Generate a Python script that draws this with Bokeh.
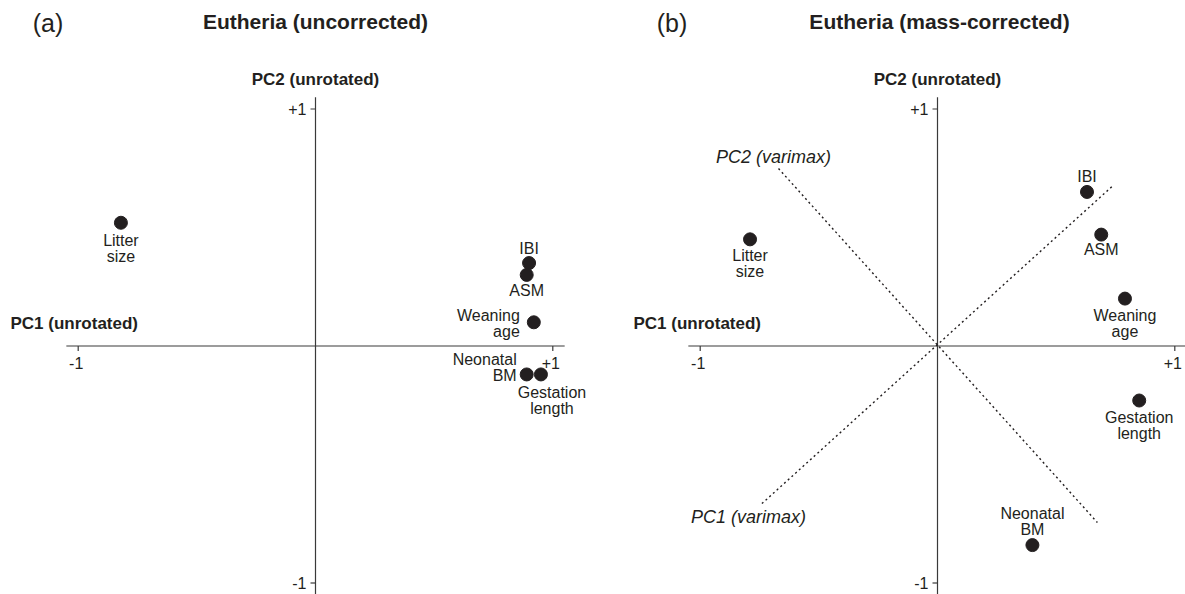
import math
from bokeh.plotting import figure
from bokeh.layouts import row
from bokeh.models import ColumnDataSource, Range1d
from bokeh.core.properties import value
from bokeh.embed import file_html
from bokeh.resources import INLINE

# ---------------- data ----------------
traits = ["Litter\nsize", "IBI", "ASM", "Weaning\nage", "Neonatal\nBM", "Gestation\nlength"]
# panel (a): Eutheria (uncorrected) loadings
a_pc1 = [-0.82, 0.90, 0.89, 0.92, 0.89, 0.95]
a_pc2 = [0.52, 0.35, 0.30, 0.10, -0.12, -0.12]
# panel (b): Eutheria (mass-corrected) loadings
b_pc1 = [-0.79, 0.63, 0.69, 0.79, 0.40, 0.85]
b_pc2 = [0.45, 0.65, 0.47, 0.20, -0.84, -0.23]
# varimax-rotated axes drawn in panel (b) (end points)
varimax_pc1_x = [-0.74, 0.74]
varimax_pc1_y = [-0.665, 0.677]
varimax_pc2_x = [-0.67, 0.674]
varimax_pc2_y = [0.749, -0.745]
tick_values = [-1, 1]
tick_labels = ["-1", "+1"]

# ---------------- styles / layout ----------------
FONT = "Liberation Sans"
INK = "#231f20"
AXIS = "#3a3a3a"
PAGE = 0        # the page template has no body margin
H = 594
W_TOTAL = 1185
CY = 345.5      # page y of the origin
SX = 237.3      # px per unit, x
SY = 237.0      # px per unit, y
AX_EXT = 1.05

# label placement (screen px offsets of the label block centre)
a_align = ["center", "center", "center", "right", "right", "center"]
a_dx = [0, 0, 0, -14, -10, 11]
a_dy = [26, -15, 16, 1, -7, 26]
b_align = ["center"] * 6
b_dx = [0, 0, 0, 0, 0, 0]
b_dy = [24, -15, 15, 25, -24, 25]


def make_panel(left, width, cx, pc1, pc2, align, dx, dy, letter, letter_cx,
               title, title_cx, pc1_title_left, varimax=False):
    def X(px):
        return (px - cx) / SX

    def Y(py):
        return (CY - py) / SY

    p = figure(width=width, height=H,
               x_range=Range1d(X(left), X(left + width)),
               y_range=Range1d(Y(PAGE + H), Y(PAGE)),
               output_backend="svg", toolbar_location=None,
               x_axis_location=None, y_axis_location=None,
               min_border=0, outline_line_color=None,
               background_fill_color="white", border_fill_color="white")
    p.grid.visible = False

    # axes through the origin
    p.segment(x0=[-AX_EXT, 0], y0=[0, -AX_EXT], x1=[AX_EXT, 0], y1=[0, AX_EXT],
              line_color=AXIS, line_width=1.2)
    p.ray(x=tick_values, y=[0, 0], length=5, angle=-math.pi / 2,
          length_units="screen", line_color=AXIS, line_width=1.2)
    p.ray(x=[0, 0], y=tick_values, length=5, angle=math.pi,
          length_units="screen", line_color=AXIS, line_width=1.2)
    tick_style = dict(text_font=value(FONT), text_font_size="16px", text_color=INK)
    p.text(x=tick_values, y=[0, 0], text=tick_labels, x_offset=-2, y_offset=17,
           text_align="center", text_baseline="middle", **tick_style)
    p.text(x=[0, 0], y=tick_values, text=tick_labels, x_offset=-9, y_offset=0,
           text_align="right", text_baseline="middle", **tick_style)

    if varimax:
        p.line(varimax_pc1_x, varimax_pc1_y, line_color=INK, line_width=1.4, line_dash="2 3")
        p.line(varimax_pc2_x, varimax_pc2_y, line_color=INK, line_width=1.4, line_dash="2 3")
        p.text(x=[X(773), X(748)], y=[Y(156), Y(516)],
               text=["PC2 (varimax)", "PC1 (varimax)"],
               text_align="center", text_baseline="middle",
               text_font=value(FONT), text_font_size="18px",
               text_font_style="italic", text_color=INK)

    # axis titles
    bold = dict(text_font=value(FONT), text_font_style="bold", text_color=INK,
                text_baseline="middle")
    p.text(x=[0], y=[Y(79)], text=["PC2 (unrotated)"], x_offset=0,
           text_align="center", text_font_size="17px", **bold)
    p.text(x=[X(pc1_title_left)], y=[Y(323)], text=["PC1 (unrotated)"],
           text_align="left", text_font_size="17px", **bold)
    # panel title and letter
    p.text(x=[X(title_cx)], y=[Y(21)], text=[title], text_align="center",
           text_font_size="21px", **bold)
    p.text(x=[X(letter_cx)], y=[Y(22)], text=[letter], text_align="center",
           text_baseline="middle", text_font=value(FONT), text_font_size="25px",
           text_color=INK)

    # points
    p.scatter(pc1, pc2, size=13, fill_color=INK, line_color=INK)

    # point labels grouped by alignment
    for al in sorted(set(align)):
        idx = [i for i, a in enumerate(align) if a == al]
        src = ColumnDataSource(dict(
            x=[pc1[i] for i in idx], y=[pc2[i] for i in idx],
            t=[traits[i] for i in idx], dx=[dx[i] for i in idx],
            dy=[dy[i] for i in idx]))
        p.text(x="x", y="y", text="t", x_offset="dx", y_offset="dy", source=src,
               text_align=al, text_baseline="middle", text_line_height=0.95,
               text_font=value(FONT), text_font_size="16px", text_color=INK)
    return p


split = 600
pa = make_panel(PAGE, split - PAGE, 315, a_pc1, a_pc2, a_align, a_dx, a_dy,
                "(a)", 47.5, "Eutheria (uncorrected)", 315, 10)
pb = make_panel(split, W_TOTAL - split, 937, b_pc1, b_pc2, b_align, b_dx, b_dy,
                "(b)", 671.5, "Eutheria (mass-corrected)", 939, 633, varimax=True)

layout = row(pa, pb, spacing=0)
open("out.html", "w").write(file_html(layout, INLINE))
